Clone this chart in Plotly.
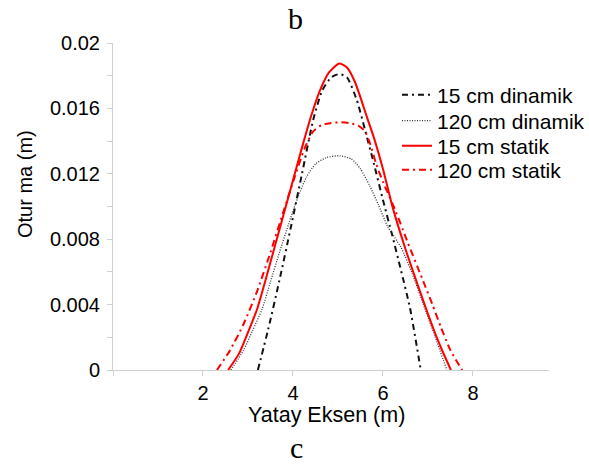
import plotly.graph_objects as go

# ---- data (x in m, settlement in m) ----
x_15_din = [3.22, 3.45, 3.7, 3.95, 4.2, 4.45, 4.65, 4.85, 5.03, 5.2, 5.42, 5.6, 5.8, 6.0, 6.2, 6.4, 6.6, 6.84]
y_15_din = [0, 0.0025, 0.0055, 0.0087, 0.0120, 0.0153, 0.0171, 0.0179, 0.0181, 0.0179, 0.0165, 0.0147, 0.0126, 0.0104, 0.0083, 0.0061, 0.0038, 0]

x_120_din = [2.62, 2.9, 3.1, 3.31, 3.5, 3.7, 3.9, 4.1, 4.3, 4.5, 4.75, 5.04, 5.3, 5.5, 5.7, 5.9, 6.1, 6.4, 6.65, 6.9, 7.15, 7.42]
y_120_din = [0, 0.0012, 0.0024, 0.0037, 0.0054, 0.0072, 0.0089, 0.0105, 0.0118, 0.0126, 0.0130, 0.0131, 0.0129, 0.0123, 0.0113, 0.0101, 0.0088, 0.0075, 0.0059, 0.0040, 0.0021, 0]

x_15_sta = [2.56, 2.8, 3.0, 3.2, 3.4, 3.6, 3.8, 4.0, 4.2, 4.4, 4.6, 4.8, 5.03, 5.2, 5.38, 5.64, 5.8, 6.0, 6.22, 6.5, 6.71, 6.9, 7.11, 7.3, 7.51]
y_15_sta = [0, 0.0010, 0.0023, 0.0037, 0.0056, 0.0076, 0.0096, 0.0116, 0.0136, 0.0155, 0.0171, 0.0182, 0.01875, 0.0185, 0.0176, 0.0155, 0.0142, 0.0123, 0.0099, 0.0074, 0.0057, 0.0042, 0.0026, 0.0013, 0]

x_120_sta = [2.31, 2.6, 2.9, 3.2, 3.5, 3.8, 4.05, 4.25, 4.45, 4.65, 4.85, 5.04, 5.25, 5.45, 5.6, 5.72, 5.85, 6.0, 6.27, 6.55, 6.87, 7.1, 7.29, 7.5, 7.76]
y_120_sta = [0, 0.0012, 0.0028, 0.0048, 0.0072, 0.0098, 0.0119, 0.0135, 0.0146, 0.0150, 0.0151, 0.01515, 0.0151, 0.01495, 0.0146, 0.0138, 0.0126, 0.0115, 0.0098, 0.0078, 0.0056, 0.0040, 0.0026, 0.0012, 0]

names = ["15 cm dinamik", "120 cm dinamik", "15 cm statik", "120 cm statik"]

y_tickvals = [0, 0.002, 0.004, 0.006, 0.008, 0.010, 0.012, 0.014, 0.016, 0.018, 0.02]
y_ticktext = ["0", "", "0.004", "", "0.008", "", "0.012", "", "0.016", "", "0.02"]
x_tickvals = [0, 2, 4, 6, 8]
x_ticktext = ["", "2", "4", "6", "8"]

FONT = "Liberation Sans, Arial, sans-serif"
AX = "#d0d0d0"
LEG_ROWS_PX = [95, 121, 146, 170]

fig = go.Figure()
styles = [
    dict(color="#111111", width=2, dash="6px,4px,2px,4px"),
    dict(color="#333333", width=1.3, dash="1px,1.5px"),
    dict(color="#ff0000", width=2),
    dict(color="#ff0000", width=2, dash="7px,4px,2px,4px"),
]
data = [(x_15_din, y_15_din), (x_120_din, y_120_din), (x_15_sta, y_15_sta), (x_120_sta, y_120_sta)]
legend_ids = ["legend", "legend2", "legend3", "legend4"]
for (xs, ys), nm, st, lid in zip(data, names, styles, legend_ids):
    fig.add_trace(go.Scatter(x=xs, y=ys, name=nm, mode="lines", legend=lid,
                             line=dict(shape="spline", smoothing=0.6, **st)))

legend_common = dict(xanchor="left", yanchor="middle", bgcolor="rgba(0,0,0,0)",
                     font=dict(size=21, family=FONT, color="black"), itemwidth=30)
lx = (397 - 113) / 436
leg_layout = {}
for lid, py in zip(legend_ids, LEG_ROWS_PX):
    leg_layout[lid] = dict(x=lx, y=(370 - py) / 327, **legend_common)

fig.update_layout(
    width=589, height=466,
    margin=dict(l=113, r=40, t=43, b=96, autoexpand=False),
    plot_bgcolor="white", paper_bgcolor="white",
    font=dict(family=FONT, size=20, color="black"),
    showlegend=True,
    xaxis=dict(range=[0, 9.69], tickvals=x_tickvals, ticktext=x_ticktext,
               showline=True, linecolor=AX, linewidth=1, ticks="outside", ticklen=5,
               tickcolor=AX, showgrid=False, zeroline=False, ticklabelstandoff=0,
               tickfont=dict(size=20, family=FONT)),
    yaxis=dict(range=[0, 0.02], tickvals=y_tickvals, ticktext=y_ticktext,
               showline=True, linecolor=AX, linewidth=1, ticks="outside", ticklen=5,
               tickcolor=AX, showgrid=False, zeroline=False, ticklabelstandoff=3,
               tickfont=dict(size=20, family=FONT)),
    annotations=[
        dict(text="b", xref="paper", yref="paper", x=(295 - 113) / 436, y=(370 - 18.5) / 327,
             showarrow=False, xanchor="center", yanchor="middle",
             font=dict(family="Liberation Serif, Times New Roman, serif", size=30)),
        dict(text="c", xref="paper", yref="paper", x=(296 - 113) / 436, y=(370 - 447) / 327,
             showarrow=False, xanchor="center", yanchor="middle",
             font=dict(family="Liberation Serif, Times New Roman, serif", size=30)),
        dict(text="Otur ma (m)", xref="paper", yref="paper", x=(25 - 113) / 436, y=(370 - 184) / 327,
             showarrow=False, xanchor="center", yanchor="middle", textangle=-90,
             font=dict(family=FONT, size=20)),
        dict(text="Yatay Eksen (m)", xref="paper", yref="paper", x=(326 - 113) / 436, y=(370 - 415) / 327,
             showarrow=False, xanchor="center", yanchor="middle",
             font=dict(family=FONT, size=21.5)),
    ],
    **leg_layout,
)

fig.write_html("out.html")
